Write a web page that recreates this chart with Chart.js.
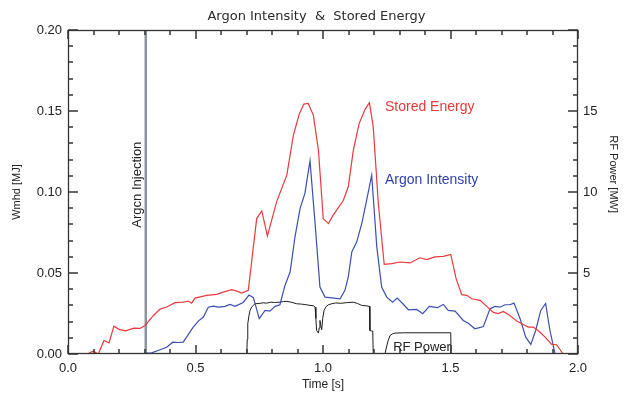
<!DOCTYPE html>
<html><head><meta charset="utf-8">
<script src="https://cdn.jsdelivr.net/npm/chart.js@4/dist/chart.umd.min.js"></script>
<style>html,body{margin:0;padding:0;background:#fff;overflow:hidden}</style>
</head><body>
<canvas id="c" width="633" height="394"></canvas>
<script>
// ---- data ----
const storedTime = [0.076,0.099,0.119,0.141,0.161,0.180,0.200,0.226,0.259,0.282,0.302,0.335,0.361,0.387,0.420,0.452,0.472,0.485,0.498,0.544,0.583,0.609,0.642,0.662,0.681,0.707,0.740,0.760,0.782,0.818,0.858,0.884,0.907,0.925,0.942,0.962,0.982,1.001,1.021,1.040,1.080,1.099,1.119,1.142,1.165,1.182,1.197,1.217,1.240,1.269,1.302,1.341,1.380,1.407,1.439,1.472,1.501,1.522,1.544,1.564,1.583,1.616,1.642,1.668,1.687,1.707,1.733,1.760,1.785,1.805,1.825,1.848,1.871,1.897,1.916,1.942];
const storedEnergy = [0,0.0017,0,0.0083,0.0069,0.0172,0.0152,0.0143,0.016,0.0158,0.0176,0.0238,0.0277,0.029,0.0317,0.032,0.0327,0.0314,0.0345,0.0362,0.0368,0.0382,0.0397,0.0388,0.0376,0.0393,0.0836,0.0883,0.0729,0.0939,0.1104,0.1351,0.1481,0.1543,0.1547,0.1475,0.1259,0.0836,0.0805,0.0857,0.0949,0.1032,0.1258,0.1424,0.151,0.1551,0.1403,0.0929,0.0553,0.0558,0.0568,0.0562,0.0594,0.0583,0.0599,0.0603,0.0615,0.0465,0.0366,0.0362,0.0341,0.0331,0.0294,0.0257,0.0249,0.0263,0.0238,0.0203,0.0182,0.0166,0.0166,0.0139,0.0104,0.0059,0.0057,0];

const argonTime = [0.302,0.328,0.361,0.387,0.411,0.433,0.452,0.472,0.491,0.511,0.531,0.550,0.570,0.589,0.616,0.635,0.655,0.687,0.710,0.727,0.750,0.773,0.792,0.812,0.831,0.851,0.871,0.890,0.910,0.929,0.949,0.969,0.988,1.008,1.027,1.067,1.086,1.099,1.113,1.132,1.152,1.171,1.191,1.211,1.230,1.250,1.273,1.291,1.313,1.335,1.367,1.391,1.417,1.448,1.472,1.491,1.518,1.550,1.570,1.596,1.629,1.655,1.675,1.694,1.714,1.733,1.749,1.773,1.795,1.815,1.834,1.854,1.873,1.890,1.910,2.0];
const argonIntensity = [0.0005,0.0007,0.0026,0.0042,0.0073,0.0071,0.0073,0.0121,0.0166,0.0203,0.0228,0.0289,0.0296,0.0289,0.0294,0.0306,0.0294,0.0318,0.0364,0.0348,0.0218,0.0269,0.0265,0.0294,0.0304,0.0424,0.0506,0.0722,0.0898,0.0991,0.1192,0.0805,0.0413,0.0351,0.0348,0.0341,0.0393,0.0475,0.063,0.0691,0.0805,0.0949,0.1104,0.066,0.0413,0.0351,0.032,0.0345,0.031,0.0273,0.0275,0.0249,0.0294,0.0286,0.0306,0.0269,0.0265,0.0207,0.019,0.0156,0.017,0.028,0.0294,0.0289,0.0304,0.0304,0.0314,0.0218,0.0104,0.0059,0.0145,0.0269,0.0312,0.0145,0,0];

const rfTime = [0.701,0.703,0.705,0.710,0.714,0.720,0.733,0.750,0.765,0.779,0.795,0.810,0.831,0.845,0.858,0.875,0.897,0.915,0.930,0.949,0.962,0.969,0.972,0.975,0.979,0.982,0.985,0.988,0.991,0.995,0.999,1.004,1.012,1.021,1.034,1.050,1.070,1.093,1.119,1.135,1.152,1.168,1.182,1.184,1.190,1.195,1.197,1.243,1.250,1.256,1.263,1.272,1.282,1.320,1.400,1.501,1.502];
const rfPower = [0,0.9,1.87,2.4,2.69,2.9,3.1,3.12,3.16,3.14,3.2,3.18,3.2,3.24,3.25,3.2,3.1,3.08,3.05,3.0,2.98,2.89,2.2,1.45,1.35,1.29,1.6,2.07,1.8,1.5,2.2,2.69,2.92,3.04,3.1,3.15,3.13,3.17,3.2,3.12,3.0,2.98,2.94,1.45,1.42,1.41,0,0,0.5,0.85,1.14,1.24,1.29,1.31,1.31,1.31,0];

const injectionTime = [0.305, 0.305];
const injectionSpan = [0, 0.2];

const xTickValues = [0, 0.5, 1.0, 1.5, 2.0];
const yTickValues = [0, 0.05, 0.10, 0.15, 0.20];
const rfTickValues = [5, 10, 15];

const titleText = 'Argon Intensity  &  Stored Energy';
const xTitle = 'Time [s]';
const yTitle = 'Wmhd [MJ]';
const y2Title = 'RF Power [MW]';

// ---- helpers ----
const pts = (xs, ys) => xs.map((x, i) => ({x: x, y: ys[i]}));

const minorTicks = {
  id: 'minorTicks',
  afterDatasetsDraw(chart) {
    const {ctx, chartArea: a, scales} = chart;
    const {x, y, y2} = scales;
    ctx.save();
    ctx.strokeStyle = '#333';
    ctx.lineWidth = 1.5;
    const L = (x1, y1, x2, y2_) => { ctx.beginPath(); ctx.moveTo(x1, y1); ctx.lineTo(x2, y2_); ctx.stroke(); };
    for (let i = 0; i <= 20; i++) {
      const px = Math.round(x.getPixelForValue(i * 0.1));
      const len = i % 5 === 0 ? 9 : 5;
      L(px, a.bottom, px, a.bottom - len);
      L(px, a.top, px, a.top + len);
    }
    for (let i = 0; i <= 20; i++) {
      const py = Math.round(y.getPixelForValue(i * 0.01));
      const len = i % 5 === 0 ? 10 : 5;
      L(a.left, py, a.left + len, py);
    }
    for (let i = 0; i <= 20; i++) {
      const py = Math.round(y2.getPixelForValue(i));
      const len = i % 5 === 0 ? 10 : 5;
      L(a.right, py, a.right - len, py);
    }
    ctx.lineWidth = 1.3;
    ctx.strokeStyle = '#333';
    ctx.strokeRect(a.left + 0.5, a.top + 0.5, a.right - a.left - 1, a.bottom - a.top - 1);
    // annotations anchored to data coordinates
    ctx.textBaseline = 'middle';
    ctx.textAlign = 'left';
    ctx.font = '14px "Liberation Sans", Arial, sans-serif';
    ctx.fillStyle = '#e8393b';
    ctx.fillText('Stored Energy', x.getPixelForValue(1.243), y.getPixelForValue(0.1524));
    ctx.fillStyle = '#2f43a6';
    ctx.fillText('Argon Intensity', x.getPixelForValue(1.243), y.getPixelForValue(0.1073));
    ctx.fillStyle = '#222';
    ctx.font = '13px "Liberation Sans", Arial, sans-serif';
    ctx.fillText('RF Power', x.getPixelForValue(1.275), y2.getPixelForValue(0.4));
    ctx.save();
    ctx.translate(x.getPixelForValue(0.271), y.getPixelForValue(0.078));
    ctx.rotate(-Math.PI / 2);
    ctx.fillText('Argcn Injection', 0, 0);
    ctx.restore();
    // right axis title
    ctx.save();
    ctx.font = '11px "Liberation Sans", Arial, sans-serif';
    ctx.textAlign = 'center';
    ctx.translate(a.right + 35, y2.getPixelForValue(11.1));
    ctx.rotate(Math.PI / 2);
    ctx.fillText(y2Title, 0, 0);
    ctx.restore();
    ctx.restore();
  }
};

const tickFont = {family: '"Liberation Sans", Arial, sans-serif', size: 13};

new Chart(document.getElementById('c'), {
  type: 'line',
  data: {
    datasets: [
      {label: 'Argon Injection', data: pts(injectionTime, injectionSpan), borderColor: '#8c939c', borderWidth: 2.5, pointRadius: 0, yAxisID: 'y', order: 4},
      {label: 'RF Power', data: pts(rfTime, rfPower), borderColor: '#1e1e1e', borderWidth: 1, pointRadius: 0, yAxisID: 'y2', order: 3},
      {label: 'Argon Intensity', data: pts(argonTime, argonIntensity), borderColor: '#3a4fb0', borderWidth: 1.2, pointRadius: 0, yAxisID: 'y', order: 2},
      {label: 'Stored Energy', data: pts(storedTime, storedEnergy), borderColor: '#e8393b', borderWidth: 1.2, pointRadius: 0, yAxisID: 'y', order: 1}
    ]
  },
  options: {
    responsive: false,
    animation: false,
    devicePixelRatio: 1,
    layout: {padding: 0},
    elements: {line: {tension: 0}},
    plugins: {
      legend: {display: false},
      tooltip: {enabled: false},
      title: {display: true, text: titleText, color: '#2a2a2a',
        font: {family: '"DejaVu Sans", sans-serif', size: 13, weight: 'normal'},
        padding: {top: 9, bottom: 5.4}}
    },
    scales: {
      x: {
        type: 'linear', position: 'bottom', min: 0, max: 2,
        grid: {display: false, drawTicks: false}, border: {display: false},
        afterBuildTicks: s => { s.ticks = xTickValues.map(v => ({value: v})); },
        ticks: {callback: v => v.toFixed(1), font: tickFont, color: '#222', padding: 7, maxRotation: 0, autoSkip: false},
        title: {display: true, text: xTitle, color: '#222', font: {family: '"Liberation Sans", Arial, sans-serif', size: 12}, padding: {top: 0, bottom: 2}},
        afterFit: s => { s.height = 40; }
      },
      y: {
        type: 'linear', position: 'left', min: 0, max: 0.2,
        grid: {display: false, drawTicks: false}, border: {display: false},
        afterBuildTicks: s => { s.ticks = yTickValues.map(v => ({value: v})); },
        ticks: {callback: v => v.toFixed(2), font: tickFont, color: '#222', padding: 6},
        title: {display: true, text: yTitle, color: '#222', font: {family: '"Liberation Sans", Arial, sans-serif', size: 11}, padding: {top: 10, bottom: 0}},
        afterFit: s => { s.width = 68; }
      },
      y2: {
        type: 'linear', position: 'right', min: 0, max: 20,
        grid: {display: false, drawTicks: false}, border: {display: false},
        afterBuildTicks: s => { s.ticks = rfTickValues.map(v => ({value: v})); },
        ticks: {callback: v => String(v), font: tickFont, color: '#222', padding: 5},
        title: {display: false, text: y2Title},
        afterFit: s => { s.width = 55; }
      }
    }
  },
  plugins: [minorTicks]
});
</script>
</body></html>
